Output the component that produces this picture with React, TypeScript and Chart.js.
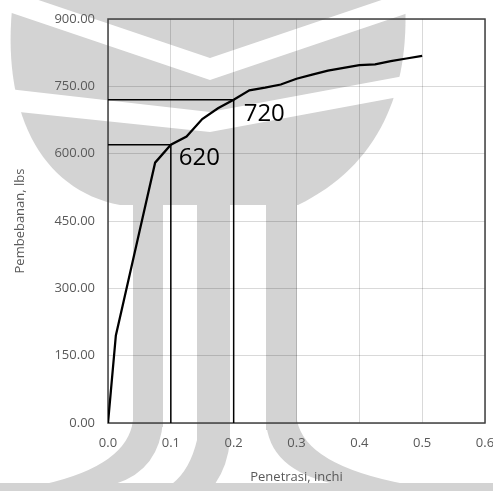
import React, { useEffect, useRef } from "react";
import { Chart, registerables } from "chart.js";

Chart.register(...registerables);

// Data
const penetration = [0, 0.0125, 0.025, 0.05, 0.075, 0.1, 0.125, 0.15, 0.175, 0.2, 0.225, 0.25, 0.275, 0.3, 0.325, 0.35, 0.375, 0.4, 0.425, 0.45, 0.475, 0.5];
const load = [0, 195, 272, 426, 580, 620, 638, 677, 701, 720, 741, 747, 754, 767, 776, 785, 791, 797, 799, 806, 812, 818];

const markerX = [0.1, 0.2];
const markerY = [620, 720];
const markerLabels = ["620", "720"];

const xMin = 0;
const xMax = 0.6;
const xStep = 0.1;
const yMin = 0;
const yMax = 900;
const yStep = 150;

const xTitle = "Penetrasi, inchi";
const yTitle = "Pembebanan, lbs";

const FONT = '"Open Sans", "Liberation Sans", sans-serif';

const watermarkPlugin = {
  id: "watermark",
  beforeDraw(chart: any) {
    const ctx = chart.ctx as CanvasRenderingContext2D;
    ctx.save();
    ctx.fillStyle = "#ffffff";
    ctx.fillRect(0, 0, chart.width, chart.height);
    ctx.fillStyle = "#d3d3d3";
    // canopy
    ctx.beginPath();
    ctx.moveTo(13, 0);
    ctx.lineTo(405, 0);
    ctx.bezierCurveTo(410, 90, 380, 165, 298, 205);
    ctx.lineTo(120, 205);
    ctx.bezierCurveTo(40, 190, 0, 110, 13, 0);
    ctx.closePath();
    ctx.fill();
    // stems
    ctx.fillRect(133, 195, 30, 232);
    ctx.fillRect(197, 195, 33, 250);
    ctx.fillRect(266, 195, 31, 235);
    // left root
    ctx.beginPath();
    ctx.moveTo(133, 420);
    ctx.quadraticCurveTo(128, 465, 45, 484);
    ctx.lineTo(115, 484);
    ctx.quadraticCurveTo(160, 470, 163, 420);
    ctx.closePath();
    ctx.fill();
    // middle root
    ctx.beginPath();
    ctx.moveTo(197, 440);
    ctx.quadraticCurveTo(190, 470, 172, 484);
    ctx.lineTo(215, 484);
    ctx.quadraticCurveTo(228, 465, 230, 440);
    ctx.closePath();
    ctx.fill();
    // right root
    ctx.beginPath();
    ctx.moveTo(297, 420);
    ctx.quadraticCurveTo(305, 465, 405, 484);
    ctx.lineTo(335, 484);
    ctx.quadraticCurveTo(268, 470, 266, 420);
    ctx.closePath();
    ctx.fill();
    // bottom band
    ctx.fillRect(0, 483, chart.width, 10);
    // white chevrons
    ctx.fillStyle = "#ffffff";
    ctx.beginPath();
    ctx.moveTo(0, -13);
    ctx.lineTo(210, 58);
    ctx.lineTo(420, -13);
    ctx.lineTo(420, 9);
    ctx.lineTo(210, 80);
    ctx.lineTo(0, 9);
    ctx.closePath();
    ctx.fill();
    ctx.beginPath();
    ctx.moveTo(0, 88);
    ctx.lineTo(210, 112);
    ctx.lineTo(420, 73);
    ctx.lineTo(420, 93);
    ctx.lineTo(210, 132);
    ctx.lineTo(0, 110);
    ctx.closePath();
    ctx.fill();
    ctx.restore();
  },
};

const framePlugin = {
  id: "frame",
  beforeDatasetsDraw(chart: any) {
    const { ctx, chartArea } = chart;
    ctx.save();
    ctx.strokeStyle = "#404040";
    ctx.lineWidth = 1.5;
    ctx.strokeRect(chartArea.left, chartArea.top, chartArea.right - chartArea.left, chartArea.bottom - chartArea.top);
    ctx.restore();
  },
};

const labelPlugin = {
  id: "markerLabels",
  afterDatasetsDraw(chart: any) {
    const { ctx, scales } = chart;
    ctx.save();
    ctx.font = `24px ${FONT}`;
    ctx.fillStyle = "#000000";
    ctx.textBaseline = "alphabetic";
    ctx.textAlign = "left";
    markerLabels.forEach((label, i) => {
      const px = scales.x.getPixelForValue(markerX[i]);
      const py = scales.y.getPixelForValue(markerY[i]);
      ctx.fillText(label, px + 8 + i * 2, py + 20 + i * 1.5);
    });
    ctx.restore();
  },
};

export default function App() {
  const canvasRef = useRef<HTMLCanvasElement | null>(null);

  useEffect(() => {
    document.body.style.margin = "0";
    document.body.style.overflow = "hidden";
    const canvas = canvasRef.current;
    if (!canvas) return;

    const curve = penetration.map((x, i) => ({ x, y: load[i] }));
    const guideSets = markerX.map((mx, i) => ({
      data: [
        { x: xMin, y: markerY[i] },
        { x: mx, y: markerY[i] },
        { x: mx, y: yMin },
      ],
      borderColor: "#000000",
      borderWidth: 1.5,
      pointRadius: 0,
      tension: 0,
      fill: false,
    }));

    const chart = new Chart(canvas, {
      type: "line",
      data: {
        datasets: [
          {
            data: curve,
            borderColor: "#000000",
            borderWidth: 2.25,
            pointRadius: 0,
            tension: 0,
            fill: false,
          },
          ...guideSets,
        ],
      },
      options: {
        animation: false,
        responsive: false,
        devicePixelRatio: 1,
        layout: { padding: { top: 19, right: 15, left: 0, bottom: 0 } },
        plugins: {
          legend: { display: false },
          tooltip: { enabled: false },
        },
        scales: {
          x: {
            type: "linear",
            min: xMin,
            max: xMax,
            afterFit: (s: any) => {
              s.height = 68;
              s.paddingLeft = 0;
              s.paddingRight = 0;
            },
            ticks: {
              stepSize: xStep,
              callback: (v: any) => Number(v).toFixed(1),
              font: { family: FONT, size: 13 },
              color: "#595959",
              padding: 12,
              maxRotation: 0,
            },
            grid: { color: "rgba(0,0,0,0.15)", drawTicks: false, lineWidth: 1 },
            border: { display: false },
            title: {
              display: true,
              text: xTitle,
              font: { family: FONT, size: 13 },
              color: "#595959",
              padding: { top: 0, bottom: 6 },
            },
          },
          y: {
            type: "linear",
            min: yMin,
            max: yMax,
            afterFit: (s: any) => {
              s.width = 108;
              s.paddingTop = 0;
              s.paddingBottom = 0;
            },
            ticks: {
              stepSize: yStep,
              callback: (v: any) => Number(v).toFixed(2),
              font: { family: FONT, size: 13 },
              color: "#595959",
              padding: 13,
            },
            grid: { color: "rgba(0,0,0,0.15)", drawTicks: false, lineWidth: 1 },
            border: { display: false },
            title: {
              display: true,
              text: yTitle,
              font: { family: FONT, size: 13 },
              color: "#595959",
              padding: { top: 12, bottom: 0 },
            },
          },
        },
      },
      plugins: [watermarkPlugin, framePlugin, labelPlugin],
    });

    return () => {
      chart.destroy();
    };
  }, []);

  return (
    <div style={{ position: "fixed", left: 0, top: 0, width: 500, height: 491 }}>
      <canvas ref={canvasRef} width={500} height={491} style={{ width: 500, height: 491, display: "block" }} />
    </div>
  );
}
